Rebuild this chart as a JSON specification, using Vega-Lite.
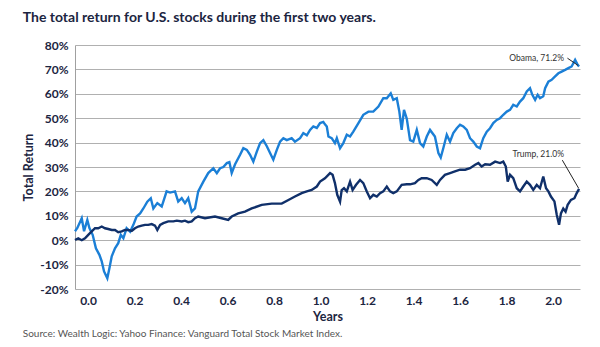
{
  "$schema": "https://vega.github.io/schema/vega-lite/v6.json",
  "padding": {"left": 22, "top": 11, "right": 20, "bottom": 1},
  "title": {"text": "The total return for U.S. stocks during the first two years.", "anchor": "start", "font": "Lato", "fontSize": 14, "fontWeight": "bold", "color": "#1c2541", "offset": 14},
  "datasets": {
    "series": [
      {"s":"Obama","x":-0.056,"v":3.7},{"s":"Obama","x":-0.046,"v":5},{"s":"Obama","x":-0.027,"v":9},{"s":"Obama","x":-0.017,"v":3.7},{"s":"Obama","x":-0.003,"v":8.3},{"s":"Obama","x":0.006,"v":5},{"s":"Obama","x":0.020,"v":2.2},{"s":"Obama","x":0.034,"v":-3.3},{"s":"Obama","x":0.049,"v":-6},{"s":"Obama","x":0.059,"v":-8.7},{"s":"Obama","x":0.069,"v":-12.8},{"s":"Obama","x":0.083,"v":-15.6},{"s":"Obama","x":0.092,"v":-11.5},{"s":"Obama","x":0.102,"v":-6.6},{"s":"Obama","x":0.116,"v":-3.3},{"s":"Obama","x":0.130,"v":-1.2},{"s":"Obama","x":0.141,"v":2.2},{"s":"Obama","x":0.152,"v":0.8},{"s":"Obama","x":0.166,"v":4.9},{"s":"Obama","x":0.181,"v":3.5},{"s":"Obama","x":0.195,"v":6.3},{"s":"Obama","x":0.209,"v":9.7},{"s":"Obama","x":0.224,"v":11},{"s":"Obama","x":0.238,"v":13},{"s":"Obama","x":0.255,"v":15.8},{"s":"Obama","x":0.270,"v":17.2},{"s":"Obama","x":0.281,"v":13},{"s":"Obama","x":0.298,"v":15.2},{"s":"Obama","x":0.317,"v":13.8},{"s":"Obama","x":0.338,"v":20},{"s":"Obama","x":0.353,"v":19.5},{"s":"Obama","x":0.374,"v":20},{"s":"Obama","x":0.388,"v":15.8},{"s":"Obama","x":0.403,"v":17.2},{"s":"Obama","x":0.417,"v":15.2},{"s":"Obama","x":0.431,"v":17.2},{"s":"Obama","x":0.446,"v":11.7},{"s":"Obama","x":0.460,"v":13},{"s":"Obama","x":0.474,"v":20},{"s":"Obama","x":0.496,"v":24},{"s":"Obama","x":0.517,"v":27.5},{"s":"Obama","x":0.539,"v":29.5},{"s":"Obama","x":0.554,"v":27.5},{"s":"Obama","x":0.568,"v":29.5},{"s":"Obama","x":0.582,"v":30},{"s":"Obama","x":0.597,"v":31.6},{"s":"Obama","x":0.608,"v":32},{"s":"Obama","x":0.618,"v":27.5},{"s":"Obama","x":0.632,"v":31},{"s":"Obama","x":0.654,"v":35},{"s":"Obama","x":0.668,"v":37.7},{"s":"Obama","x":0.683,"v":37},{"s":"Obama","x":0.697,"v":35},{"s":"Obama","x":0.711,"v":32.2},{"s":"Obama","x":0.726,"v":36.3},{"s":"Obama","x":0.740,"v":39.8},{"s":"Obama","x":0.754,"v":41},{"s":"Obama","x":0.769,"v":38.5},{"s":"Obama","x":0.783,"v":35.7},{"s":"Obama","x":0.797,"v":33},{"s":"Obama","x":0.812,"v":37},{"s":"Obama","x":0.826,"v":40.4},{"s":"Obama","x":0.840,"v":41.8},{"s":"Obama","x":0.855,"v":41},{"s":"Obama","x":0.876,"v":41.8},{"s":"Obama","x":0.890,"v":40.4},{"s":"Obama","x":0.912,"v":41.8},{"s":"Obama","x":0.926,"v":43.9},{"s":"Obama","x":0.941,"v":43},{"s":"Obama","x":0.955,"v":45.2},{"s":"Obama","x":0.969,"v":46.6},{"s":"Obama","x":0.984,"v":46},{"s":"Obama","x":0.998,"v":48},{"s":"Obama","x":1.012,"v":48.5},{"s":"Obama","x":1.019,"v":47.5},{"s":"Obama","x":1.027,"v":46.6},{"s":"Obama","x":1.034,"v":42.5},{"s":"Obama","x":1.048,"v":41.8},{"s":"Obama","x":1.062,"v":39.8},{"s":"Obama","x":1.070,"v":41.8},{"s":"Obama","x":1.084,"v":37.7},{"s":"Obama","x":1.098,"v":39.8},{"s":"Obama","x":1.113,"v":43.2},{"s":"Obama","x":1.127,"v":42.5},{"s":"Obama","x":1.141,"v":44.5},{"s":"Obama","x":1.163,"v":48},{"s":"Obama","x":1.184,"v":51.4},{"s":"Obama","x":1.206,"v":52.7},{"s":"Obama","x":1.227,"v":52.7},{"s":"Obama","x":1.249,"v":54.8},{"s":"Obama","x":1.270,"v":58.2},{"s":"Obama","x":1.285,"v":58.2},{"s":"Obama","x":1.302,"v":60.2},{"s":"Obama","x":1.313,"v":57.5},{"s":"Obama","x":1.328,"v":58.2},{"s":"Obama","x":1.339,"v":52.7},{"s":"Obama","x":1.349,"v":45.2},{"s":"Obama","x":1.359,"v":53.4},{"s":"Obama","x":1.371,"v":49.8},{"s":"Obama","x":1.385,"v":41},{"s":"Obama","x":1.399,"v":40.4},{"s":"Obama","x":1.414,"v":45.2},{"s":"Obama","x":1.428,"v":39.8},{"s":"Obama","x":1.442,"v":38.4},{"s":"Obama","x":1.457,"v":42.5},{"s":"Obama","x":1.471,"v":45.2},{"s":"Obama","x":1.492,"v":42.5},{"s":"Obama","x":1.507,"v":35.7},{"s":"Obama","x":1.517,"v":33.9},{"s":"Obama","x":1.528,"v":37.7},{"s":"Obama","x":1.543,"v":43.2},{"s":"Obama","x":1.550,"v":41.8},{"s":"Obama","x":1.557,"v":40.4},{"s":"Obama","x":1.571,"v":43.9},{"s":"Obama","x":1.586,"v":45.9},{"s":"Obama","x":1.600,"v":47.3},{"s":"Obama","x":1.614,"v":46.6},{"s":"Obama","x":1.629,"v":45.2},{"s":"Obama","x":1.643,"v":41.8},{"s":"Obama","x":1.657,"v":40.4},{"s":"Obama","x":1.672,"v":38.4},{"s":"Obama","x":1.686,"v":37.7},{"s":"Obama","x":1.700,"v":41.8},{"s":"Obama","x":1.715,"v":44.5},{"s":"Obama","x":1.729,"v":45.9},{"s":"Obama","x":1.743,"v":48},{"s":"Obama","x":1.758,"v":49.3},{"s":"Obama","x":1.772,"v":50},{"s":"Obama","x":1.786,"v":51.4},{"s":"Obama","x":1.801,"v":52.7},{"s":"Obama","x":1.815,"v":53.4},{"s":"Obama","x":1.829,"v":55.5},{"s":"Obama","x":1.844,"v":54.8},{"s":"Obama","x":1.858,"v":56.8},{"s":"Obama","x":1.872,"v":58.2},{"s":"Obama","x":1.887,"v":61},{"s":"Obama","x":1.901,"v":62.3},{"s":"Obama","x":1.911,"v":59.6},{"s":"Obama","x":1.923,"v":57.5},{"s":"Obama","x":1.934,"v":59.6},{"s":"Obama","x":1.944,"v":58.2},{"s":"Obama","x":1.958,"v":59},{"s":"Obama","x":1.966,"v":62.3},{"s":"Obama","x":1.980,"v":65},{"s":"Obama","x":1.994,"v":65.7},{"s":"Obama","x":2.009,"v":67.1},{"s":"Obama","x":2.023,"v":68.4},{"s":"Obama","x":2.037,"v":69.1},{"s":"Obama","x":2.052,"v":69.8},{"s":"Obama","x":2.066,"v":70.5},{"s":"Obama","x":2.080,"v":71.2},{"s":"Obama","x":2.095,"v":73.9},{"s":"Obama","x":2.106,"v":71.9},{"s":"Obama","x":2.112,"v":71.2},
      {"s":"Trump","x":-0.056,"v":0.1},{"s":"Trump","x":-0.042,"v":0.8},{"s":"Trump","x":-0.027,"v":0},{"s":"Trump","x":-0.013,"v":0.8},{"s":"Trump","x":0.001,"v":2.2},{"s":"Trump","x":0.016,"v":3.6},{"s":"Trump","x":0.030,"v":4.9},{"s":"Trump","x":0.044,"v":4.9},{"s":"Trump","x":0.059,"v":5.6},{"s":"Trump","x":0.073,"v":4.9},{"s":"Trump","x":0.087,"v":4.6},{"s":"Trump","x":0.102,"v":4.2},{"s":"Trump","x":0.116,"v":4.2},{"s":"Trump","x":0.130,"v":3.3},{"s":"Trump","x":0.145,"v":3.6},{"s":"Trump","x":0.159,"v":4.2},{"s":"Trump","x":0.173,"v":4.2},{"s":"Trump","x":0.188,"v":3.8},{"s":"Trump","x":0.202,"v":4.9},{"s":"Trump","x":0.216,"v":5.6},{"s":"Trump","x":0.231,"v":6},{"s":"Trump","x":0.245,"v":6.3},{"s":"Trump","x":0.259,"v":6.3},{"s":"Trump","x":0.274,"v":6.6},{"s":"Trump","x":0.288,"v":6},{"s":"Trump","x":0.298,"v":4.2},{"s":"Trump","x":0.310,"v":6.3},{"s":"Trump","x":0.324,"v":7},{"s":"Trump","x":0.345,"v":7.7},{"s":"Trump","x":0.367,"v":7.7},{"s":"Trump","x":0.382,"v":8},{"s":"Trump","x":0.403,"v":7.7},{"s":"Trump","x":0.417,"v":8},{"s":"Trump","x":0.431,"v":7.4},{"s":"Trump","x":0.446,"v":7.7},{"s":"Trump","x":0.460,"v":9},{"s":"Trump","x":0.474,"v":9.7},{"s":"Trump","x":0.503,"v":9},{"s":"Trump","x":0.546,"v":9.7},{"s":"Trump","x":0.575,"v":9},{"s":"Trump","x":0.603,"v":8.3},{"s":"Trump","x":0.618,"v":9.7},{"s":"Trump","x":0.646,"v":11},{"s":"Trump","x":0.675,"v":11.7},{"s":"Trump","x":0.704,"v":13},{"s":"Trump","x":0.747,"v":14.5},{"s":"Trump","x":0.790,"v":15},{"s":"Trump","x":0.833,"v":15},{"s":"Trump","x":0.862,"v":16.5},{"s":"Trump","x":0.890,"v":17.9},{"s":"Trump","x":0.919,"v":19.3},{"s":"Trump","x":0.941,"v":20},{"s":"Trump","x":0.962,"v":20.6},{"s":"Trump","x":0.984,"v":22},{"s":"Trump","x":0.998,"v":24},{"s":"Trump","x":1.019,"v":25.4},{"s":"Trump","x":1.041,"v":27.5},{"s":"Trump","x":1.052,"v":26.8},{"s":"Trump","x":1.062,"v":23.4},{"s":"Trump","x":1.072,"v":18.6},{"s":"Trump","x":1.084,"v":15.8},{"s":"Trump","x":1.091,"v":20.5},{"s":"Trump","x":1.101,"v":21.3},{"s":"Trump","x":1.113,"v":20},{"s":"Trump","x":1.127,"v":24},{"s":"Trump","x":1.138,"v":20.6},{"s":"Trump","x":1.153,"v":22.7},{"s":"Trump","x":1.170,"v":24.7},{"s":"Trump","x":1.184,"v":23.4},{"s":"Trump","x":1.199,"v":20},{"s":"Trump","x":1.213,"v":17.2},{"s":"Trump","x":1.227,"v":18.6},{"s":"Trump","x":1.242,"v":17.9},{"s":"Trump","x":1.256,"v":19.3},{"s":"Trump","x":1.270,"v":20},{"s":"Trump","x":1.285,"v":22},{"s":"Trump","x":1.299,"v":20},{"s":"Trump","x":1.313,"v":19.3},{"s":"Trump","x":1.328,"v":20},{"s":"Trump","x":1.349,"v":22.7},{"s":"Trump","x":1.371,"v":22.9},{"s":"Trump","x":1.385,"v":22.9},{"s":"Trump","x":1.406,"v":23.4},{"s":"Trump","x":1.421,"v":24.7},{"s":"Trump","x":1.435,"v":25.4},{"s":"Trump","x":1.457,"v":25.4},{"s":"Trump","x":1.478,"v":24.7},{"s":"Trump","x":1.500,"v":22.7},{"s":"Trump","x":1.514,"v":24.7},{"s":"Trump","x":1.535,"v":26.8},{"s":"Trump","x":1.557,"v":27.5},{"s":"Trump","x":1.578,"v":28.2},{"s":"Trump","x":1.600,"v":28.9},{"s":"Trump","x":1.622,"v":28.9},{"s":"Trump","x":1.643,"v":29.5},{"s":"Trump","x":1.665,"v":30.9},{"s":"Trump","x":1.679,"v":31.6},{"s":"Trump","x":1.693,"v":30.2},{"s":"Trump","x":1.708,"v":31.1},{"s":"Trump","x":1.729,"v":30.9},{"s":"Trump","x":1.751,"v":32.2},{"s":"Trump","x":1.772,"v":31.6},{"s":"Trump","x":1.786,"v":32.2},{"s":"Trump","x":1.797,"v":30.2},{"s":"Trump","x":1.805,"v":24},{"s":"Trump","x":1.815,"v":26.8},{"s":"Trump","x":1.829,"v":25.4},{"s":"Trump","x":1.844,"v":21.3},{"s":"Trump","x":1.858,"v":20},{"s":"Trump","x":1.872,"v":22},{"s":"Trump","x":1.887,"v":24},{"s":"Trump","x":1.901,"v":22.7},{"s":"Trump","x":1.915,"v":20.6},{"s":"Trump","x":1.930,"v":22.7},{"s":"Trump","x":1.944,"v":21.3},{"s":"Trump","x":1.958,"v":26.1},{"s":"Trump","x":1.970,"v":21.3},{"s":"Trump","x":1.980,"v":20},{"s":"Trump","x":1.991,"v":17.9},{"s":"Trump","x":2.006,"v":15.9},{"s":"Trump","x":2.016,"v":10.4},{"s":"Trump","x":2.026,"v":6.3},{"s":"Trump","x":2.034,"v":11},{"s":"Trump","x":2.044,"v":13},{"s":"Trump","x":2.054,"v":11.7},{"s":"Trump","x":2.063,"v":14.5},{"s":"Trump","x":2.077,"v":16.5},{"s":"Trump","x":2.092,"v":17.2},{"s":"Trump","x":2.102,"v":19.3},{"s":"Trump","x":2.112,"v":21}
    ],
    "labels": [
      {"x": 2.047, "v": 74.7, "t": "Obama, 71.2%"},
      {"x": 2.047, "v": 35.2, "t": "Trump, 21.0%"}
    ],
    "leaders": [
      {"x": 2.062, "v": 74.6, "x2": 2.108, "v2": 71.6},
      {"x": 2.040, "v": 32.8, "x2": 2.110, "v2": 21.3}
    ]
  },
  "vconcat": [
    {
      "width": 505,
      "height": 244,
      "title": {"text": "Source: Wealth Logic: Yahoo Finance: Vanguard Total Stock Market Index.", "orient": "bottom", "anchor": "start", "font": "Lato", "fontSize": 10, "fontWeight": "normal", "color": "#555555", "offset": 6},
      "encoding": {
        "x": {"field": "x", "type": "quantitative", "scale": {"domain": [-0.056, 2.116], "nice": false, "zero": false},
          "axis": {"values": [0, 0.2, 0.4, 0.6, 0.8, 1.0, 1.2, 1.4, 1.6, 1.8, 2.0], "format": ".1f", "labelOverlap": false, "title": "Years", "grid": false, "ticks": false, "domain": false, "labelFont": "Lato", "labelFontSize": 12, "labelFontWeight": "bold", "labelColor": "#1c2541", "labelPadding": 6, "titleFont": "Lato", "titleFontSize": 12.5, "titleFontWeight": "bold", "titleColor": "#1c2541", "titlePadding": 4}},
        "y": {"field": "v", "type": "quantitative", "scale": {"domain": [-20, 80], "nice": false, "zero": false},
          "axis": {"values": [-20, -10, 0, 10, 20, 30, 40, 50, 60, 70, 80], "labelOverlap": false, "labelExpr": "datum.value + '%'", "title": "Total Return", "grid": true, "gridColor": "#b0b0b0", "gridWidth": 1, "ticks": false, "domain": true, "domainColor": "#a0a0a0", "labelFont": "Lato", "labelFontSize": 12, "labelFontWeight": "bold", "labelColor": "#1c2541", "labelPadding": 7, "titleFont": "Lato", "titleFontSize": 12.5, "titleFontWeight": "bold", "titleColor": "#1c2541", "titlePadding": 4}}
      },
      "layer": [
        {
          "data": {"name": "series"},
          "mark": {"type": "line", "strokeWidth": 2.4, "interpolate": "linear"},
          "encoding": {
            "color": {"field": "s", "type": "nominal", "scale": {"domain": ["Obama", "Trump"], "range": ["#1b7fd6", "#10306a"]}, "legend": null}
          }
        },
        {
          "data": {"name": "leaders"},
          "mark": {"type": "rule", "color": "#222222", "strokeWidth": 1},
          "encoding": {
            "x2": {"field": "x2"},
            "y2": {"field": "v2"}
          }
        },
        {
          "data": {"name": "labels"},
          "mark": {"type": "text", "align": "right", "baseline": "middle", "font": "Lato", "fontSize": 8.5, "color": "#333333"},
          "encoding": {
            "text": {"field": "t"}
          }
        }
      ]
    }
  ],
  "config": {"view": {"stroke": null}}
}
